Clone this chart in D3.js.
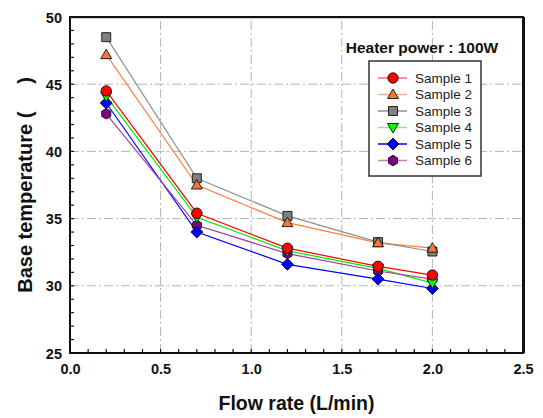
<!DOCTYPE html>
<html>
<head>
<meta charset="utf-8">
<script src="https://cdn.jsdelivr.net/npm/d3@7"></script>
<style>
  body { margin: 0; background: #fff; }
  text { font-family: "Liberation Sans", Arial, sans-serif; }
</style>
</head>
<body>
<div id="chart"></div>
<script>
// chart data
var flowRates = [0.2, 0.7, 1.2, 1.7, 2.0];
var sample1 = [44.5, 35.4, 32.8, 31.45, 30.8];
var sample2 = [47.2, 37.5, 34.7, 33.2, 32.8];
var sample3 = [48.5, 38.0, 35.2, 33.25, 32.55];
var sample4 = [44.1, 35.1, 32.6, 31.3, 30.2];
var sample5 = [43.6, 34.0, 31.6, 30.5, 29.8];
var sample6 = [42.8, 34.5, 32.4, 31.1, 30.5];
var seriesNames = ["Sample 1", "Sample 2", "Sample 3", "Sample 4", "Sample 5", "Sample 6"];
var xTicks = [0.0, 0.5, 1.0, 1.5, 2.0, 2.5];
var yTicks = [25, 30, 35, 40, 45, 50];

var width = 543, height = 418;
var margin = {left: 70, right: 20, top: 17, bottom: 65};

var svg = d3.select("#chart").append("svg")
    .attr("width", width)
    .attr("height", height);

var x = d3.scaleLinear().domain([0, 2.5]).range([margin.left, width - margin.right]);
var y = d3.scaleLinear().domain([25, 50]).range([height - margin.bottom, margin.top]);

// series styling
var styles = [
    {line: "#ff0000", fill: "#ff0000", shape: "circle", legLine: "#ff7070"},
    {line: "#ff8040", fill: "#f07838", shape: "triUp", legLine: "#ffb080"},
    {line: "#909090", fill: "#808080", shape: "square", legLine: "#909090"},
    {line: "#00ee00", fill: "#00ff00", shape: "triDown", legLine: "#70ff70"},
    {line: "#0000ff", fill: "#0000ff", shape: "diamond", legLine: "#0000ff"},
    {line: "#a040a0", fill: "#800080", shape: "hexagon", legLine: "#c080c0"}
];
var seriesValues = [sample1, sample2, sample3, sample4, sample5, sample6];

function markerPath(shape) {
    var r = 5;
    switch (shape) {
        case "circle": return d3.symbol(d3.symbolCircle, 85)();
        case "square": return "M-4.5,-4.5H4.5V4.5H-4.5Z";
        case "triUp": return "M0,-5.5L5.5,4L-5.5,4Z";
        case "triDown": return "M0,5.5L5.5,-4L-5.5,-4Z";
        case "diamond": return "M0,-6L6,0L0,6L-6,0Z";
        case "hexagon":
            var pts = d3.range(6).map(function (i) {
                var a = Math.PI / 3 * i - Math.PI / 2;
                return [r * Math.cos(a) * 1.05, r * Math.sin(a) * 1.05];
            });
            return "M" + pts.join("L") + "Z";
    }
}

// grid lines (dash-dot)
var grid = svg.append("g");
grid.selectAll(".gx").data(xTicks.slice(1, -1)).enter().append("line")
    .attr("x1", d => x(d)).attr("x2", d => x(d))
    .attr("y1", y(25)).attr("y2", y(50))
    .attr("stroke", "#b4b4b4").attr("stroke-width", 1)
    .attr("stroke-dasharray", "9,3,2,3");
grid.selectAll(".gy").data(yTicks.slice(1, -1)).enter().append("line")
    .attr("x1", x(0)).attr("x2", x(2.5))
    .attr("y1", d => y(d)).attr("y2", d => y(d))
    .attr("stroke", "#b4b4b4").attr("stroke-width", 1)
    .attr("stroke-dasharray", "9,3,2,3");

// axes with inward ticks
var xAxis = d3.axisBottom(x).tickValues(xTicks).tickFormat(d3.format(".1f")).tickSize(0);
var yAxis = d3.axisLeft(y).tickValues(yTicks).tickSize(0);

var gx = svg.append("g").attr("transform", "translate(0," + y(25) + ")").call(xAxis);
gx.select(".domain").remove();
gx.selectAll("text").attr("dy", "1.25em").attr("font-size", 14.5).attr("font-weight", "bold")
    .attr("font-family", "Liberation Sans, Arial, sans-serif").attr("fill", "#111");

var gy = svg.append("g").attr("transform", "translate(" + x(0) + ",0)").call(yAxis);
gy.select(".domain").remove();
gy.selectAll("text").attr("x", -8).attr("dy", "0.35em").attr("font-size", 14.5).attr("font-weight", "bold")
    .attr("font-family", "Liberation Sans, Arial, sans-serif").attr("fill", "#111");

// minor ticks
var xMinor = d3.range(1, 25).map(d => d / 10);
svg.append("g").selectAll("line").data(xMinor).enter().append("line")
    .attr("x1", d => x(d)).attr("x2", d => x(d))
    .attr("y1", y(25)).attr("y2", y(25) - 4)
    .attr("stroke", "#111").attr("stroke-width", 1.2);
var yMinor = d3.range(26, 50);
svg.append("g").selectAll("line").data(yMinor).enter().append("line")
    .attr("x1", x(0)).attr("x2", x(0) + 4)
    .attr("y1", d => y(d)).attr("y2", d => y(d))
    .attr("stroke", "#111").attr("stroke-width", 1.2);

// frame
svg.append("line").attr("x1", x(0)).attr("x2", x(2.5)).attr("y1", y(50) + 1).attr("y2", y(50) + 1)
    .attr("stroke", "#aaa").attr("stroke-width", 1);
svg.append("rect")
    .attr("x", x(0)).attr("y", y(50))
    .attr("width", x(2.5) - x(0)).attr("height", y(25) - y(50))
    .attr("fill", "none").attr("stroke", "#111").attr("stroke-width", 2);
svg.append("line").attr("x1", x(2.5) + 1).attr("x2", x(2.5) + 1).attr("y1", y(50)).attr("y2", y(25))
    .attr("stroke", "#111").attr("stroke-width", 2);

// series lines
var line = d3.line().x(d => x(d[0])).y(d => y(d[1]));
seriesValues.forEach(function (vals, i) {
    var pts = flowRates.map((f, j) => [f, vals[j]]);
    svg.append("path").datum(pts)
        .attr("d", line)
        .attr("fill", "none")
        .attr("stroke", styles[i].line)
        .attr("stroke-width", 1.2);
});

// markers (drawn in reverse so Sample 1 ends up on top where they overlap)
d3.range(6).reverse().forEach(function (i) {
    var pts = flowRates.map((f, j) => [f, seriesValues[i][j]]);
    svg.append("g").selectAll("path").data(pts).enter().append("path")
        .attr("transform", d => "translate(" + x(d[0]) + "," + y(d[1]) + ")")
        .attr("d", markerPath(styles[i].shape))
        .attr("fill", styles[i].fill)
        .attr("stroke", "#111")
        .attr("stroke-width", 0.9);
});

// annotation
svg.append("text")
    .attr("x", 422).attr("y", 53)
    .attr("text-anchor", "middle")
    .attr("font-size", 15.5).attr("font-weight", "bold").attr("fill", "#111")
    .text("Heater power : 100W");

// legend
var legend = svg.append("g").attr("transform", "translate(369,61)");
legend.append("rect")
    .attr("width", 112).attr("height", 115)
    .attr("fill", "#fff").attr("stroke", "#333").attr("stroke-width", 1.5);
seriesNames.forEach(function (name, i) {
    var ly = 17 + i * 16.5;
    var row = legend.append("g").attr("transform", "translate(0," + ly + ")");
    row.append("line").attr("x1", 9).attr("x2", 38).attr("y1", 0).attr("y2", 0)
        .attr("stroke", styles[i].legLine).attr("stroke-width", 1.5);
    row.append("path").attr("transform", "translate(24,0)")
        .attr("d", markerPath(styles[i].shape))
        .attr("fill", styles[i].fill).attr("stroke", "#111").attr("stroke-width", 0.9);
    row.append("text").attr("x", 46).attr("y", 0).attr("dy", "0.36em")
        .attr("font-size", 13.5).attr("fill", "#222")
        .text(name);
});

// axis titles
svg.append("text")
    .attr("x", (x(0) + x(2.5)) / 2).attr("y", 410)
    .attr("text-anchor", "middle")
    .attr("font-size", 19.5).attr("font-weight", "bold").attr("fill", "#111")
    .text("Flow rate (L/min)");

svg.append("text")
    .attr("transform", "translate(32," + 185 + ") rotate(-90)")
    .attr("text-anchor", "middle")
    .style("white-space", "pre")
    .attr("font-size", 20).attr("font-weight", "bold").attr("fill", "#111")
    .text("Base temperature (     )");
</script>
</body>
</html>
